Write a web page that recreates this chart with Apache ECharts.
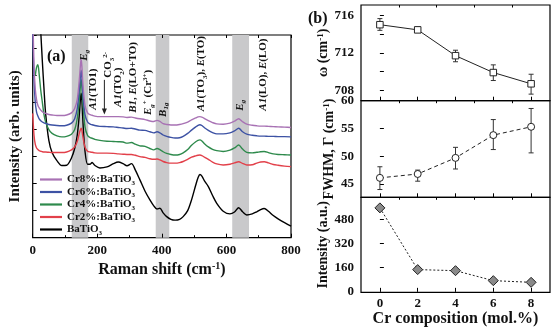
<!DOCTYPE html>
<html>
<head>
<meta charset="utf-8">
<script src="https://cdn.jsdelivr.net/npm/echarts@6/dist/echarts.min.js"></script>
<style>
html, body { margin: 0; padding: 0; background: #fff; }
#chart { width: 554px; height: 330px; }
</style>
</head>
<body>
<div id="chart"></div>
<script>
// ---- (a) Raman spectra ----
const ramanShift = [0,4,8,12,16,20,25,30,35,40,50,60,75,90,105,120,130,138,144,148,150,152,156,162,170,178,184,192,208,230,250,265,280,292,306,318,332,348,363,375,385,394,404,415,428,441,455,466,480,492,505,512,518,524,532,544,557,570,590,611,625,638,650,663,680,694,706,717,730,745,760,780,800];

const intBaTiO3 = [null,null,null,null,null,8.6,7.6,6.5,5.5,4.6,
  3.6,3.15,2.85,2.67,2.68,2.95,3.3,3.8,4.5,5.15,
  5.35,5.15,4.2,3.2,2.72,2.72,2.78,2.68,2.58,2.62,
  2.74,2.8,2.74,2.66,2.74,2.5,2.14,1.72,1.4,1.18,
  1.06,1.09,0.92,0.78,0.68,0.65,0.68,0.78,1.0,1.4,
  1.95,2.22,2.34,2.28,2.1,1.89,1.56,1.27,0.98,0.88,
  0.95,1.11,0.96,0.84,0.88,0.96,1.04,1.08,0.98,0.82,
  0.7,0.56,0.43];

const intCr2 = [4.6,3.8,3.45,3.32,3.26,3.22,3.2,3.18,3.17,3.17,
  3.16,3.15,3.15,3.15,3.17,3.25,3.36,3.56,3.85,4.0,
  4.05,4.0,3.7,3.35,3.2,3.17,3.16,3.14,3.13,3.13,
  3.12,3.1,3.09,3.08,3.08,3.05,3.0,2.97,2.92,2.9,
  2.91,2.88,2.82,2.78,2.76,2.76,2.78,2.82,2.9,2.98,
  3.03,3.05,3.06,3.04,2.98,2.9,2.8,2.73,2.69,2.72,
  2.77,2.81,2.75,2.69,2.7,2.76,2.8,2.81,2.77,2.71,
  2.68,2.65,2.63];

const intCr4 = [null,null,6.0,6.3,6.4,6.05,5.45,5.0,4.55,4.28,
  4.0,3.86,3.77,3.73,3.75,3.83,4.0,4.42,5.05,5.65,
  5.85,5.65,4.9,4.1,3.78,3.7,3.68,3.64,3.6,3.57,
  3.56,3.55,3.54,3.5,3.52,3.46,3.4,3.38,3.3,3.25,
  3.3,3.26,3.18,3.12,3.08,3.06,3.08,3.14,3.26,3.42,
  3.55,3.6,3.62,3.58,3.48,3.36,3.27,3.22,3.19,3.24,
  3.32,3.43,3.28,3.16,3.14,3.16,3.18,3.19,3.15,3.1,
  3.08,3.07,3.06];

const intCr6 = [7.6,5.9,5.0,4.65,4.5,4.4,4.33,4.28,4.25,4.23,
  4.19,4.17,4.15,4.14,4.16,4.24,4.4,4.78,5.45,6.0,
  6.2,6.0,5.2,4.55,4.28,4.2,4.18,4.15,4.12,4.11,
  4.1,4.08,4.06,4.04,4.05,4.02,3.98,3.97,3.92,3.88,
  3.92,3.88,3.8,3.75,3.71,3.69,3.7,3.75,3.86,3.98,
  4.1,4.16,4.18,4.15,4.07,3.97,3.89,3.84,3.84,3.88,
  3.95,4.05,3.92,3.83,3.79,3.77,3.76,3.76,3.75,3.75,
  3.74,3.74,3.73];

const intCr8 = [8.5,6.4,5.5,5.1,4.9,4.8,4.72,4.66,4.62,4.6,
  4.56,4.54,4.52,4.52,4.54,4.62,4.78,5.12,5.8,6.4,
  6.6,6.4,5.6,4.9,4.62,4.55,4.53,4.5,4.48,4.48,
  4.48,4.48,4.47,4.45,4.46,4.43,4.4,4.37,4.32,4.3,
  4.34,4.3,4.22,4.19,4.17,4.17,4.19,4.22,4.28,4.36,
  4.43,4.47,4.48,4.46,4.41,4.33,4.26,4.21,4.2,4.24,
  4.31,4.40,4.29,4.2,4.16,4.14,4.13,4.13,4.12,4.11,
  4.1,4.09,4.08];

const spectrumNames = ['Cr8%:BaTiO3', 'Cr6%:BaTiO3', 'Cr4%:BaTiO3', 'Cr2%:BaTiO3', 'BaTiO3'];
const spectrumValues = [intCr8, intCr6, intCr4, intCr2, intBaTiO3];
const spectrumColors = ['#a872b4', '#3d52a4', '#2e8a4c', '#e2404a', '#000000'];

// Shaded Raman bands (cm-1)
const bandRanges = [[121, 172], [381, 423], [618, 670]];
const ramanTicks = [0, 200, 400, 600, 800];

// Mode assignments: [Raman shift, height of the text foot, label]
const modeLabels = [
  [158, 6.55, '{i|E}{isb|g}'],
  [188, 4.73, '{i|A1}{n|(TO1)}'],
  [234, 5.92, '{n|CO}{sb|3}{sp|2-}'],
  [265, 4.84, '{i|A1}{n|(TO}{sb|2}{n|)}'],
  [312, 4.62, '{i|B1}{n|, }{i|E}{n|(LO+TO)}'],
  [358, 4.54, '{i|E}{isb|g}{sp|+}{n| (Cr}{sp|3+}{n|)}'],
  [404, 4.47, '{i|B}{isb|1g}'],
  [523, 4.68, '{i|A1}{n|(TO}{sb|3}{n|), }{i|E}{n|(TO)}'],
  [641, 4.7, '{i|E}{isb|g}'],
  [714, 4.7, '{i|A1}{n|(LO), }{i|E}{n|(LO)}']
];
const co3Arrow = [[222, 5.84], [222, 4.56]];

// ---- (b) Cr-dependent fit parameters ----
const crComposition = [0, 2, 4, 6, 8];
const omega = [715.0, 714.45, 711.7, 709.9, 708.7];
const omegaLow = [714.4, 714.2, 711.05, 709.05, 707.6];
const omegaHigh = [715.65, 714.72, 712.28, 710.72, 709.72];
const fwhm = [46.1, 46.8, 49.7, 53.8, 55.3];
const fwhmLow = [44.0, 45.5, 47.7, 51.2, 50.6];
const fwhmHigh = [48.1, 47.5, 51.6, 56.6, 58.6];
const peakIntensity = [555, 147, 140, 74, 63];
const crTicks = [0, 2, 4, 6, 8];
const crMinorTicks = [1, 3, 5, 7];
const omegaTicks = [708, 712, 716];
const omegaMinorTicks = [710, 714];
const fwhmTicks = [45, 50, 55, 60];
const intensityTicks = [0, 160, 320, 480];

const SERIF = '"Liberation Serif", "Times New Roman", serif';
const richBase = {
  n: { fontFamily: SERIF, fontWeight: 'bold', fontSize: 11, lineHeight: 14, fill: '#111', color: '#111' },
  i: { fontFamily: SERIF, fontWeight: 'bold', fontStyle: 'italic', fontSize: 11, lineHeight: 14, fill: '#111', color: '#111' },
  sb: { fontFamily: SERIF, fontWeight: 'bold', fontSize: 7, lineHeight: 9, verticalAlign: 'bottom', fill: '#111', color: '#111' },
  isb: { fontFamily: SERIF, fontWeight: 'bold', fontStyle: 'italic', fontSize: 7, lineHeight: 9, verticalAlign: 'bottom', fill: '#111', color: '#111' },
  sp: { fontFamily: SERIF, fontWeight: 'bold', fontSize: 7, lineHeight: 9, verticalAlign: 'top', fill: '#111', color: '#111' }
};

function pairs(xs, ys) {
  const out = [];
  for (let k = 0; k < xs.length; k++) if (ys[k] != null) out.push([xs[k], ys[k]]);
  return out;
}

function legendText(name) {
  return '{n|' + name.slice(0, -1) + '}{sb|' + name.slice(-1) + '}';
}

const tickStyle = { lineStyle: { color: '#000', width: 1 } };

function errorBarSeries(xi, yi, lows, highs) {
  return {
    type: 'custom', xAxisIndex: xi, yAxisIndex: yi, z: 3, silent: true,
    data: crComposition.map((c, k) => [c, lows[k], highs[k]]),
    encode: { x: 0, y: [1, 2] },
    renderItem(params, api) {
      const x = api.value(0);
      const top = api.coord([x, api.value(2)]);
      const bot = api.coord([x, api.value(1)]);
      const w = 2.5;
      const st = { stroke: '#333', lineWidth: 1 };
      return {
        type: 'group',
        children: [
          { type: 'line', shape: { x1: top[0], y1: top[1], x2: bot[0], y2: bot[1] }, style: st },
          { type: 'line', shape: { x1: top[0] - w, y1: top[1], x2: top[0] + w, y2: top[1] }, style: st },
          { type: 'line', shape: { x1: bot[0] - w, y1: bot[1], x2: bot[0] + w, y2: bot[1] }, style: st }
        ]
      };
    }
  };
}

const rightLeft = 361, rightWidth = 189;
const panelTops = [5, 100.7, 197.3];
const panelHeights = [95.7, 96.6, 95];

const grids = [
  { left: 32.7, top: 35, width: 258.3, height: 202.7, show: true, borderColor: '#000', borderWidth: 1.2 }
].concat(panelTops.map((t, k) => ({
  left: rightLeft, top: t, width: rightWidth, height: panelHeights[k],
  show: true, borderColor: '#000', borderWidth: 1.2
})));

const xAxes = [
  {
    type: 'value', gridIndex: 0, min: 0, max: 800, interval: 200,
    axisLine: { show: false }, splitLine: { show: false },
    axisTick: { inside: true, length: 4, ...tickStyle },
    minorTick: { show: true, splitNumber: 2, length: 2.5, lineStyle: { color: '#000' } },
    axisLabel: { margin: 6, fontFamily: SERIF, fontWeight: 'bold', fontSize: 13, color: '#111',
      customValues: ramanTicks },
    name: 'Raman shift (cm{sp|-1})', nameLocation: 'middle', nameGap: 19,
    nameTextStyle: { fontFamily: SERIF, fontWeight: 'bold', fontSize: 16, color: '#111',
      rich: { sp: { fontFamily: SERIF, fontWeight: 'bold', fontSize: 10, verticalAlign: 'top', lineHeight: 10, color: '#111' } } }
  },
  {
    type: 'value', gridIndex: 0, position: 'top', min: 0, max: 800, interval: 100,
    axisLine: { show: false }, splitLine: { show: false }, axisLabel: { show: false },
    axisTick: { inside: true, length: 3, ...tickStyle }
  }
];
for (let k = 0; k < 3; k++) {
  const last = k === 2;
  xAxes.push({
    type: 'value', gridIndex: k + 1, min: -1, max: 9,
    axisLine: { show: false }, splitLine: { show: false },
    axisTick: { inside: true, length: 4, customValues: crTicks, ...tickStyle },
    axisLabel: { show: last, customValues: crTicks, margin: 5, fontFamily: SERIF, fontWeight: 'bold', fontSize: 13, color: '#111' },
    name: last ? 'Cr composition (mol.%)' : '', nameLocation: 'middle', nameGap: 15,
    nameTextStyle: { fontFamily: SERIF, fontWeight: 'bold', fontSize: 16, color: '#111' }
  });
}
for (let k = 0; k < 3; k++) {
  xAxes.push({
    type: 'value', gridIndex: k + 1, min: -1, max: 9,
    axisLine: { show: false }, splitLine: { show: false }, axisLabel: { show: false },
    axisTick: { inside: true, length: 2.5, customValues: crMinorTicks, ...tickStyle }
  });
}

const yNameStyle = {
  fontFamily: SERIF, fontWeight: 'bold', fontSize: 14, color: '#111',
  rich: { sp: { fontFamily: SERIF, fontWeight: 'bold', fontSize: 9, verticalAlign: 'top', lineHeight: 9, color: '#111' } }
};
const yLabelStyle = { margin: 7, fontFamily: SERIF, fontWeight: 'bold', fontSize: 13, color: '#111' };

const yAxes = [
  {
    type: 'value', gridIndex: 0, min: 0, max: 7.5, interval: 1,
    axisLine: { show: false }, splitLine: { show: false }, axisLabel: { show: false },
    axisTick: { inside: true, length: 4, ...tickStyle },
    name: 'Intensity (arb. units)', nameLocation: 'middle', nameGap: 10,
    nameTextStyle: { fontFamily: SERIF, fontWeight: 'bold', fontSize: 15, color: '#111' }
  },
  {
    type: 'value', gridIndex: 1, min: 706.9, max: 717.1,
    axisLine: { show: false }, splitLine: { show: false },
    axisTick: { inside: true, length: 4, customValues: omegaTicks.concat(omegaMinorTicks), ...tickStyle },
    axisLabel: { ...yLabelStyle, customValues: omegaTicks },
    name: 'ω (cm{sp|-1})', nameLocation: 'middle', nameGap: 25, nameTextStyle: yNameStyle
  },
  {
    type: 'value', gridIndex: 2, min: 42.6, max: 60,
    axisLine: { show: false }, splitLine: { show: false },
    axisTick: { inside: true, length: 4, customValues: fwhmTicks, ...tickStyle },
    axisLabel: { ...yLabelStyle, customValues: fwhmTicks },
    name: 'FWHM, Γ (cm{sp|-1})', nameLocation: 'middle', nameGap: 25, nameTextStyle: yNameStyle
  },
  {
    type: 'value', gridIndex: 3, min: -3, max: 625,
    axisLine: { show: false }, splitLine: { show: false },
    axisTick: { inside: true, length: 4, customValues: intensityTicks, ...tickStyle },
    axisLabel: { ...yLabelStyle, customValues: intensityTicks },
    name: 'Intensity (a.u.)', nameLocation: 'middle', nameGap: 25, nameTextStyle: yNameStyle
  }
];

const series = [
  {
    // grey bands behind the spectra
    type: 'custom', xAxisIndex: 0, yAxisIndex: 0, z: 0, silent: true,
    data: bandRanges,
    renderItem(params, api) {
      const a = api.coord([api.value(0), 7.5]);
      const b = api.coord([api.value(1), 0]);
      return { type: 'rect', shape: { x: a[0], y: a[1], width: b[0] - a[0], height: b[1] - a[1] },
        style: { fill: '#c9c9cb' } };
    }
  }
];

spectrumNames.forEach((name, k) => {
  series.push({
    name, type: 'line', xAxisIndex: 0, yAxisIndex: 0, z: 2 + (5 - k),
    data: pairs(ramanShift, spectrumValues[k]),
    showSymbol: false, symbol: 'none', smooth: 0.3, clip: true,
    lineStyle: { color: spectrumColors[k], width: 1.4 },
    itemStyle: { color: spectrumColors[k] }
  });
});

// (b) top: phonon frequency
series.push(errorBarSeries(2, 1, omegaLow, omegaHigh));
series.push({
  type: 'line', xAxisIndex: 2, yAxisIndex: 1, z: 4,
  data: pairs(crComposition, omega),
  symbol: 'rect', symbolSize: 6.5,
  lineStyle: { color: '#222', width: 1 },
  itemStyle: { color: '#fff', borderColor: '#222', borderWidth: 1 }
});
// (b) middle: linewidth
series.push(errorBarSeries(3, 2, fwhmLow, fwhmHigh));
series.push({
  type: 'line', xAxisIndex: 3, yAxisIndex: 2, z: 4,
  data: pairs(crComposition, fwhm),
  symbol: 'circle', symbolSize: 7,
  lineStyle: { color: '#222', width: 1, type: [4, 3] },
  itemStyle: { color: '#fff', borderColor: '#222', borderWidth: 1 }
});
// (b) bottom: integrated intensity
series.push({
  type: 'line', xAxisIndex: 4, yAxisIndex: 3, z: 4,
  data: pairs(crComposition, peakIntensity),
  symbol: 'diamond', symbolSize: 10,
  lineStyle: { color: '#222', width: 1, type: [2, 2] },
  itemStyle: { color: '#8a8a8a', borderColor: '#222', borderWidth: 1 }
});

const option = {
  animation: false,
  backgroundColor: '#fff',
  grid: grids,
  xAxis: xAxes,
  yAxis: yAxes,
  legend: {
    data: spectrumNames,
    orient: 'vertical', left: 35, top: 169,
    icon: 'rect', itemWidth: 22, itemHeight: 2.2, itemGap: 0,
    selectedMode: false,
    formatter: legendText,
    textStyle: { rich: richBase }
  },
  title: [
    { text: '(a)', left: 42, top: 44, textStyle: { fontFamily: SERIF, fontWeight: 'bold', fontSize: 16, color: '#111' } },
    { text: '(b)', left: 303, top: 6, textStyle: { fontFamily: SERIF, fontWeight: 'bold', fontSize: 16, color: '#111' } }
  ],
  series
};

const chart = echarts.init(document.getElementById('chart'));
chart.setOption(option);

// Rotated mode labels and the CO3 arrow, placed through the spectrum axes
const toPx = v => chart.convertToPixel({ gridIndex: 0 }, v);
const graphics = modeLabels.map(m => {
  const p = toPx([m[0], m[1]]);
  return {
    type: 'text', x: p[0], y: p[1], rotation: Math.PI / 2, z: 20, silent: true,
    style: { text: m[2], rich: richBase, align: 'left', verticalAlign: 'middle' }
  };
});
const a0 = toPx(co3Arrow[0]), a1 = toPx(co3Arrow[1]);
graphics.push({
  type: 'line', z: 20, silent: true,
  shape: { x1: a0[0], y1: a0[1], x2: a1[0], y2: a1[1] - 4 },
  style: { stroke: '#222', lineWidth: 1 }
});
graphics.push({
  type: 'polygon', z: 20, silent: true,
  shape: { points: [[a1[0] - 2.5, a1[1] - 6], [a1[0] + 2.5, a1[1] - 6], [a1[0], a1[1]]] },
  style: { fill: '#222' }
});
chart.setOption({ graphic: graphics });
</script>
</body>
</html>
